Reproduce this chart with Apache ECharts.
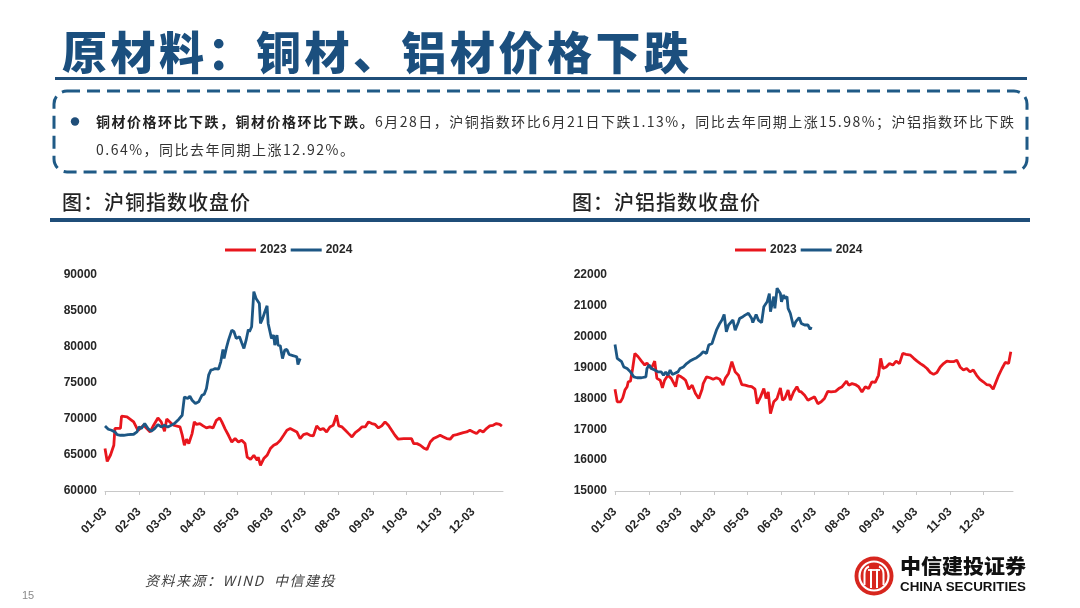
<!DOCTYPE html>
<html>
<head>
<meta charset="utf-8">
<script src="https://cdn.jsdelivr.net/npm/echarts@6/dist/echarts.min.js"></script>
<style>
  html, body { margin: 0; padding: 0; background: #fff; }
  body { width: 1080px; height: 608px; position: relative; overflow: hidden; font-family: "Noto Sans CJK SC", "Noto Sans", sans-serif; }
  #chart { position: absolute; left: 0; top: 0; width: 1080px; height: 608px; }
  .abs { position: absolute; white-space: nowrap; }
  #title { left: 62px; top: 27px; font-size: 45px; line-height: 48px; font-weight: 900; color: #1b4f7e; letter-spacing: 3.5px; }
  #titleLine { left: 55px; top: 77px; width: 972px; height: 3px; background: #1f4e79; }
  .bodytxt { left: 96px; font-size: 14px; line-height: 20px; color: #333; letter-spacing: 1.5px; }
  .bodytxt b { color: #222; font-weight: 700; }
  .sub { top: 189px; font-size: 20px; line-height: 26px; font-weight: 500; color: #222; letter-spacing: 1px; }
  #subLine { left: 50px; top: 218px; width: 980px; height: 4px; background: #1f4e79; }
  #source { left: 145px; top: 570px; font-size: 14px; line-height: 20px; font-style: italic; color: #404040; letter-spacing: 1.5px; }
  #page { left: 22px; top: 587px; font-size: 11px; line-height: 16px; color: #8a8a8a; font-family: "Liberation Sans", sans-serif; }
</style>
</head>
<body>
<div id="chart"></div>

<div class="abs" id="title">原材料：铜材、铝材价格下跌</div>
<div class="abs" id="titleLine"></div>

<svg class="abs" style="left:52px;top:89px;" width="978" height="86">
  <rect x="2" y="2" width="973" height="81" rx="13" ry="13" fill="none" stroke="#1f5a86" stroke-width="3" stroke-dasharray="13 7"/>
  <circle cx="23" cy="32.5" r="4.2" fill="#1f4e79"/>
</svg>
<div class="abs bodytxt" style="top:111px;"><b>铜材价格环比下跌，铜材价格环比下跌。</b>6月28日，沪铜指数环比6月21日下跌1.13%，同比去年同期上涨15.98%；沪铝指数环比下跌</div>
<div class="abs bodytxt" style="top:139px;">0.64%，同比去年同期上涨12.92%。</div>

<div class="abs sub" style="left:62px;">图：沪铜指数收盘价</div>
<div class="abs sub" style="left:572px;">图：沪铝指数收盘价</div>
<div class="abs" id="subLine"></div>

<div class="abs" id="source">资料来源：WIND&nbsp;&nbsp;中信建投</div>
<div class="abs" id="page">15</div>

<svg class="abs" style="left:850px;top:552px;" width="185" height="50">
  <circle cx="24" cy="24" r="19.5" fill="#d7261e"/>
  <circle cx="24" cy="24" r="14.5" fill="none" stroke="#fff" stroke-width="2.2"/>
  <path d="M14.5 33 L14.5 22 Q14.5 16 19 14.5 M33.5 33 L33.5 22 Q33.5 16 29 14.5" fill="none" stroke="#fff" stroke-width="2"/>
  <line x1="21" y1="17" x2="21" y2="36" stroke="#fff" stroke-width="2"/>
  <line x1="27" y1="17" x2="27" y2="36" stroke="#fff" stroke-width="2"/>
  <line x1="18" y1="18" x2="30" y2="18" stroke="#fff" stroke-width="1.8"/>
  <text x="50" y="22" font-family="Noto Sans CJK SC" font-weight="900" font-size="20" fill="#111" textLength="126" lengthAdjust="spacingAndGlyphs">中信建投证券</text>
  <text x="50" y="39" font-family="Liberation Sans Narrow, Liberation Sans" font-weight="700" font-size="13" fill="#111" textLength="126" lengthAdjust="spacingAndGlyphs">CHINA SECURITIES</text>
</svg>

<script>
// ---------------- Data ----------------
const tickLabels = ['01-03','02-03','03-03','04-03','05-03','06-03','07-03','08-03','09-03','10-03','11-03','12-03'];
const axisEnd = '12-30';

// 沪铜 2023
const cuDates2023 = [
  '01-03','01-05','01-08','01-11','01-12','01-17','01-18','01-23','01-29',
  '02-02','02-07','02-13','02-16','02-20','02-23','02-26','02-28',
  '03-04','03-07','03-12','03-14','03-16','03-18','03-20','03-23','03-25','03-27','03-30',
  '04-02','04-05','04-08','04-11','04-14','04-17','04-19','04-22','04-25','04-28',
  '05-01','05-04','05-07','05-10','05-12','05-15','05-18','05-21','05-22','05-24','05-27','05-30',
  '06-02','06-05','06-08','06-11','06-14','06-17','06-20','06-23','06-26','06-29',
  '07-02','07-05','07-08','07-11','07-14','07-17','07-20','07-23','07-26','07-29',
  '08-01','08-03','08-06','08-09','08-12','08-15','08-18','08-21','08-24','08-27','08-30',
  '09-02','09-05','09-08','09-11','09-14','09-17','09-20','09-23','09-26',
  '10-01','10-05','10-08','10-10','10-13','10-16','10-19','10-22','10-25','10-28','10-31',
  '11-03','11-06','11-09','11-12','11-15','11-18','11-21','11-24','11-27','11-30',
  '12-03','12-06','12-09','12-12','12-15','12-18','12-21','12-24','12-27','12-29'
];
const cu2023 = [
  65900,64100,65000,66350,68700,68700,70400,70300,69600,
  68400,69130,68200,69100,70150,69600,68300,70000,
  69400,69100,68900,67800,66350,67190,66600,67970,69600,69240,69360,
  69040,68760,68900,68760,69800,70150,69600,68600,67740,66800,
  67280,66800,67050,66600,64700,64400,64960,64270,64700,63570,64500,64960,
  65890,66350,66580,67050,67740,68440,68670,68440,68200,67280,
  67830,67970,67740,67650,69040,68530,68670,68200,68900,69130,
  70520,69040,68900,68440,67970,67510,68110,68440,68900,68900,69600,
  69360,69240,68760,69040,69600,69130,68440,67740,67190,
  67280,67280,67280,66580,66580,66350,65980,65750,66800,67280,67510,
  67740,67510,67280,67190,67740,67830,67970,68110,68200,68440,
  68200,67970,68440,68200,68670,69040,69130,69360,69240,69000
];

// 沪铜 2024
const cuDates2024 = [
  '01-03','01-06','01-09','01-12','01-14','01-17','01-20','01-24','01-29',
  '02-01','02-03','02-05','02-08','02-11','02-14','02-17','02-20','02-23','02-26',
  '03-01','03-04','03-07','03-11','03-14','03-16','03-19','03-21','03-23','03-26','03-29',
  '04-01','04-03','04-05','04-07','04-09','04-11','04-13','04-16','04-18','04-20','04-21','04-23','04-25','04-28','04-30',
  '05-02','05-05','05-07','05-09','05-11','05-13','05-14','05-16','05-18','05-20','05-23','05-24','05-26','05-28','05-30','05-31',
  '06-02','06-03','06-05','06-06','06-08','06-09','06-11','06-13','06-15','06-17','06-19','06-21','06-23','06-26','06-27','06-29'
];
const cu2024 = [
  69040,68580,68440,68200,67830,67740,67740,67830,67880,
  68200,68900,68670,69360,68670,68300,68670,69230,68900,69130,
  68900,69130,69360,69970,70520,73070,72840,73170,72610,72150,72380,
  73300,73440,74230,76090,76780,76880,77010,76920,77940,79660,78400,79800,80950,82350,82120,
  81190,81420,80580,79800,80950,82440,82120,82810,87680,86750,86050,83270,83970,84900,85730,83270,
  81880,81190,81650,80260,81650,80260,80170,78400,79560,79660,78960,78870,78780,78630,77570,78400
];

// 沪铝 2023
const alDates2023 = [
  '01-03','01-05','01-08','01-10','01-12','01-14','01-15','01-17','01-19','01-21','01-24','01-27','01-30',
  '02-01','02-03','02-05','02-08','02-10','02-13','02-15','02-17','02-20','02-23','02-27',
  '03-01','03-04','03-06','03-08','03-11','03-14','03-17','03-20','03-23','03-24','03-27','03-30',
  '04-02','04-05','04-08','04-11','04-13','04-16','04-19','04-22','04-25','04-28',
  '05-01','05-04','05-07','05-10','05-12','05-15','05-18','05-20','05-22','05-24','05-27','05-30',
  '06-02','06-04','06-06','06-09','06-11','06-14','06-17','06-19','06-21','06-24','06-27','06-30',
  '07-03','07-06','07-09','07-12','07-15','07-18','07-22','07-25','07-28',
  '08-01','08-03','08-06','08-09','08-12','08-15','08-18','08-21','08-24','08-27','08-30',
  '09-01','09-03','09-06','09-09','09-12','09-15','09-18','09-21','09-24','09-28',
  '10-01','10-04','10-07','10-10','10-13','10-16','10-19','10-22','10-25','10-28','10-31',
  '11-03','11-06','11-09','11-12','11-15','11-18','11-21','11-24','11-27','11-30',
  '12-03','12-06','12-09','12-12','12-14','12-17','12-20','12-23','12-24','12-26','12-28'
];
const al2023 = [
  18300,17890,17890,18020,18270,18380,18540,18560,18970,19460,19350,19210,19080,
  19150,19050,18970,19210,18650,18590,18340,18590,18750,18650,18380,
  18750,18700,18650,18590,18300,18430,18160,18000,18300,18480,18700,18670,
  18620,18670,18620,18430,18650,18810,19190,18860,18750,18450,
  18430,18400,18380,18300,17830,18050,18320,18000,18210,17510,17890,18000,
  18340,17940,18000,18270,17940,18210,18380,18230,18210,18100,17940,18000,
  18050,17830,17890,18000,18230,18210,18230,18320,18380,
  18560,18430,18480,18450,18380,18210,18380,18320,18540,18520,18750,
  19300,18970,19020,19130,19080,19210,19130,19460,19430,19400,
  19300,19210,19130,19060,18970,18840,18780,18840,19020,19130,19210,
  19190,19190,19240,19020,18920,18970,18860,18920,18750,18620,
  18540,18450,18430,18300,18480,18750,18970,19170,19190,19130,19510
];

// 沪铝 2024
const alDates2024 = [
  '01-03','01-05','01-06','01-09','01-11','01-12','01-14','01-17','01-20','01-23','01-27','01-31',
  '02-01','02-03','02-05','02-08','02-11','02-14','02-16','02-18','02-20','02-22','02-24','02-26',
  '03-01','03-03','03-06','03-09','03-12','03-15','03-18','03-21','03-24','03-27','03-29',
  '04-01','04-03','04-05','04-08','04-10','04-12','04-14','04-16','04-18','04-20','04-22','04-25','04-26','04-29',
  '05-01','05-04','05-07','05-08','05-11','05-13','05-16','05-18','05-21','05-23','05-24','05-27','05-28','05-30','05-31',
  '06-02','06-03','06-05','06-06','06-08','06-09','06-11','06-14','06-16','06-19','06-21','06-24','06-27','06-29','06-30'
];
const al2024 = [
  19750,19300,19240,19190,19020,19080,18970,18860,18700,18670,18670,18700,
  18970,19080,18970,18920,18860,18860,18750,18860,18750,18920,18780,18810,
  18860,18970,19020,19130,19210,19270,19320,19400,19510,19460,19730,
  19780,20000,20210,20430,20540,20720,20160,20380,20460,20540,20210,20480,20590,20650,
  20700,20760,20590,20460,20720,20540,20460,20970,21130,21400,20810,21300,20920,21570,21620,
  21400,21130,21350,21240,21300,20920,20760,20320,20490,20620,20430,20380,20380,20240,20320
];

const legendNames = ['2023', '2024'];
// ---------------------------------------

function dayOff(s) {
  const p = s.split('-').map(Number);
  return (Date.UTC(2023, p[0] - 1, p[1]) - Date.UTC(2023, 0, 3)) / 86400000;
}
function pairs(dates, vals) { return dates.map((d, i) => [dayOff(d), vals[i]]); }

const tickVals = tickLabels.map(dayOff);
const labelOf = {};
tickLabels.forEach(l => { labelOf[dayOff(l)] = l; });

const RED = '#e8161d', BLUE = '#1d5784', AXIS = '#c8c8c8';
const numFont = { fontFamily: 'Liberation Sans, Arial, sans-serif', fontWeight: 'bold', fontSize: 12, color: '#262626' };

function xAxis(i) {
  return {
    type: 'value', gridIndex: i, min: 0, max: dayOff(axisEnd),
    axisLine: { show: true, lineStyle: { color: AXIS, width: 1 } },
    axisTick: { show: true, customValues: tickVals, length: 4, lineStyle: { color: AXIS } },
    axisLabel: Object.assign({ customValues: tickVals, rotate: 45, margin: 19, formatter: v => labelOf[v] || '' }, numFont),
    splitLine: { show: false }
  };
}
function yAxis(i, min, max, step) {
  return {
    type: 'value', gridIndex: i, min: min, max: max, interval: step,
    axisLine: { show: false }, axisTick: { show: false }, splitLine: { show: false },
    axisLabel: Object.assign({ margin: 8, formatter: v => String(v) }, numFont)
  };
}
function line(name, i, data, color) {
  return {
    type: 'line', name: name, xAxisIndex: i, yAxisIndex: i, data: data,
    showSymbol: false, symbol: 'none', lineStyle: { color: color, width: 2.8 }, itemStyle: { color: color },
    z: name === '2024' ? 3 : 2
  };
}
function legend(left) {
  return {
    left: left, top: 239, icon: 'rect', itemWidth: 31, itemHeight: 3, itemGap: 4,
    data: legendNames, selectedMode: false,
    textStyle: Object.assign({}, numFont, { padding: [0, 0, 0, -1] })
  };
}

const chart = echarts.init(document.getElementById('chart'), null, { renderer: 'canvas' });
chart.setOption({
  animation: false,
  backgroundColor: 'transparent',
  legend: [legend(220), legend(730)],
  grid: [
    { left: 105, top: 275, width: 398, height: 216 },
    { left: 615, top: 275, width: 398, height: 216 }
  ],
  xAxis: [xAxis(0), xAxis(1)],
  yAxis: [yAxis(0, 60000, 90000, 5000), yAxis(1, 15000, 22000, 1000)],
  series: [
    line('2023', 0, pairs(cuDates2023, cu2023), RED),
    line('2024', 0, pairs(cuDates2024, cu2024), BLUE),
    line('2023', 1, pairs(alDates2023, al2023), RED),
    line('2024', 1, pairs(alDates2024, al2024), BLUE)
  ]
});
</script>
</body>
</html>
